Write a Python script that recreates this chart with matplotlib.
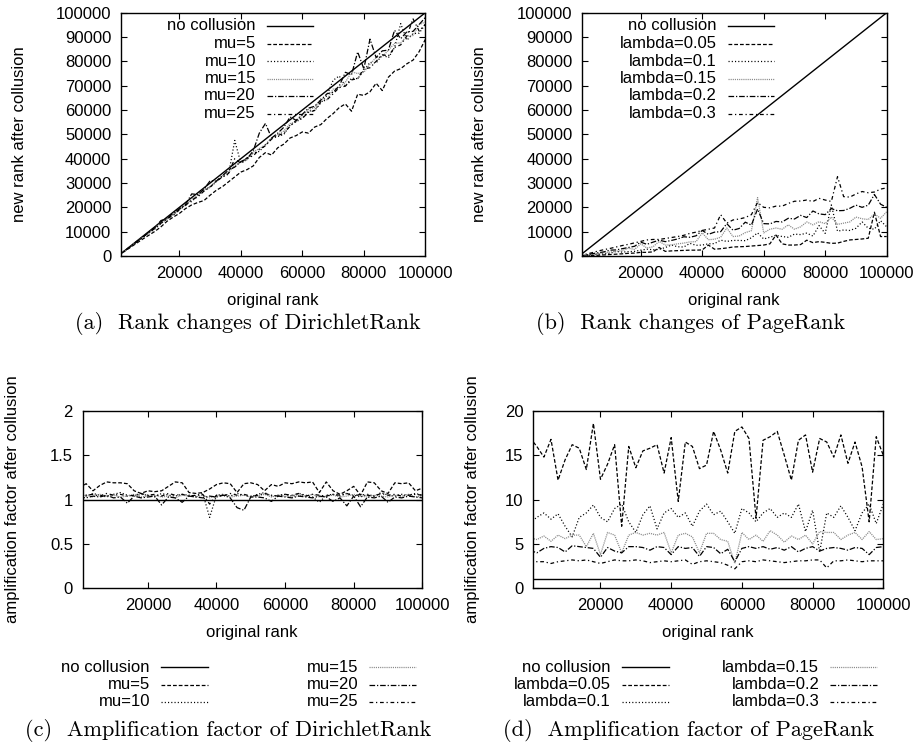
import numpy as np
import matplotlib
matplotlib.use("Agg")
import matplotlib.pyplot as plt
from matplotlib.lines import Line2D

plt.rcParams['font.family'] = ['Liberation Sans', 'DejaVu Sans']
plt.rcParams['axes.unicode_minus'] = False

W, H = 920, 745

# sampled original ranks (every 2000 pages)
ranks = np.arange(0, 100001, 2000)
full_range = [0, 100000]

mu_labels = ['no collusion', 'mu=5', 'mu=10', 'mu=15', 'mu=20', 'mu=25']
lambda_labels = ['no collusion', 'lambda=0.05', 'lambda=0.1', 'lambda=0.15',
                 'lambda=0.2', 'lambda=0.3']

# (a) new rank after collusion, DirichletRank
mu5_rank = [0, 1800, 3500, 5200, 6900, 8500, 10100, 12000, 14300, 16000,
            17500, 19500, 21000, 22000, 22800, 25000, 27000, 28500, 30500, 32500,
            34500, 35500, 37000, 40500, 42500, 41500, 44500, 46000, 48500, 49500,
            51000, 50500, 53000, 54000, 56500, 58500, 61000, 62500, 59500, 66500,
            66000, 67500, 71000, 68000, 73500, 76000, 77000, 79000, 80500, 84000,
            89000]
mu10_rank = [0, 1900, 3700, 5700, 7800, 9400, 11100, 13300, 15400, 17000,
             19000, 21400, 22400, 24800, 26900, 28300, 30500, 32700, 33600, 47500,
             38100, 39600, 42300, 43000, 45700, 48500, 49100, 50000, 53800, 55200,
             56600, 59600, 59800, 62900, 66000, 72200, 74000, 69800, 73100, 72900,
             76200, 79600, 79300, 82700, 81500, 85700, 95500, 88700, 91400, 91600,
             95200]
mu15_rank = [0, 1900, 3900, 5700, 7700, 9500, 11600, 13500, 15100, 17500,
             19200, 21000, 23300, 25000, 27400, 28600, 30800, 33000, 34300, 37300,
             38500, 39600, 42700, 44200, 45700, 48500, 50000, 51400, 54400, 55200,
             57700, 60200, 61000, 64700, 64200, 68600, 69200, 71400, 75700, 75000,
             75500, 78800, 81600, 81900, 84600, 87400, 87600, 90400, 90600, 95100,
             96200]
mu20_rank = [0, 1960, 3850, 5830, 7620, 9800, 11650, 14580, 15380, 17650,
             19420, 21150, 25530, 25240, 27450, 30930, 30770, 33010, 35290, 36540,
             38830, 40000, 43140, 50500, 54500, 48500, 50490, 52940, 57140, 55770,
             58250, 60780, 61540, 64080, 66670, 67310, 69900, 75510, 74510, 83870,
             76920, 89130, 81550, 84310, 84620, 92780, 89320, 92160, 92310, 95150,
             98040]
mu25_rank = [0, 1870, 3770, 5660, 7690, 9520, 11320, 13460, 15240, 16820,
             19050, 20750, 23080, 24300, 26670, 28300, 30770, 32380, 33960, 40000,
             38100, 40380, 41120, 43810, 45280, 48080, 49520, 50470, 53330, 55770,
             56600, 59050, 59810, 63460, 64150, 66670, 69230, 69810, 72380, 72900,
             76920, 77360, 80000, 82690, 82240, 85710, 86790, 90380, 97500, 92450,
             95240]

# (b) new rank after collusion, PageRank
lam005_rank = [0, 100, 200, 300, 450, 600, 750, 900, 1100, 1200,
               1500, 1500, 1700, 3500, 1900, 2100, 2200, 2300, 2400, 2400,
               2500, 4500, 2800, 3000, 3300, 3700, 3800, 3900, 4100, 4300,
               4500, 5000, 8600, 5000, 4500, 4500, 4700, 6500, 5500, 5900,
               5600, 5200, 5300, 6000, 6600, 6800, 7000, 7300, 18000, 8000,
               8000]
lam01_rank = [0, 200, 400, 700, 900, 1100, 1900, 1600, 1800, 1900,
              2400, 2800, 2600, 2700, 3500, 4500, 3800, 3700, 5200, 4400,
              4500, 5000, 5100, 6500, 6000, 6400, 6400, 6300, 7500, 9500,
              7000, 7700, 8500, 8000, 7700, 9000, 8800, 9400, 8200, 12500,
              9300, 21000, 10200, 10700, 10500, 11400, 14000, 11400, 11000, 14500,
              12000]
lam015_rank = [0, 300, 600, 1000, 1300, 1600, 1900, 2200, 3200, 2700,
               5000, 3300, 3800, 6000, 4500, 4600, 5000, 5300, 5800, 5900,
               9500, 6700, 6900, 7700, 11500, 8000, 8200, 9600, 10400, 24000,
               9500, 11000, 11500, 11000, 12800, 11000, 12000, 14000, 12800, 14100,
               13300, 16000, 13000, 13500, 14000, 16000, 15300, 15000, 17300, 15500,
               18200]
lam02_rank = [0, 400, 900, 1300, 1700, 2400, 2500, 3000, 3500, 4000,
              5700, 4800, 5700, 6500, 5900, 6400, 7000, 7900, 7700, 8300,
              10500, 8900, 9800, 10000, 13300, 10600, 11300, 13900, 12700, 19300,
              13300, 13200, 14200, 14000, 15500, 15200, 16700, 15800, 18500, 17300,
              17000, 19500, 18600, 18700, 19600, 20900, 20000, 20900, 25300, 21300,
              20000]
lam03_rank = [0, 700, 1300, 2000, 2600, 3100, 3700, 4300, 4800, 5400,
              6000, 6600, 6800, 6800, 7200, 7600, 8000, 8500, 9300, 9800,
              10500, 11000, 11500, 17000, 13500, 14800, 15200, 15800, 17000, 22000,
              20000, 19800, 20500, 20500, 21600, 22500, 22600, 23000, 22400, 23700,
              23000, 22400, 32600, 24400, 24200, 25500, 26500, 26000, 26300, 27500,
              28000]

# (c) amplification factor, DirichletRank
mu5_amp = [1.13, 1.18, 1.10, 1.16, 1.20, 1.19, 1.19, 1.18, 1.10, 1.07,
           1.10, 1.09, 1.10, 1.15, 1.20, 1.19, 1.08, 1.07, 1.08, 1.12,
           1.17, 1.19, 1.18, 1.08, 1.18, 1.19, 1.17, 1.10, 1.17, 1.15,
           1.19, 1.18, 1.20, 1.19, 1.20, 1.08, 1.20, 1.10, 1.06, 1.10,
           1.15, 1.05, 1.20, 1.19, 1.10, 1.07, 1.19, 1.18, 1.19, 1.10,
           1.13]
mu10_amp = [1.06, 1.04, 1.07, 1.05, 1.03, 1.06, 1.08, 1.05, 1.04, 1.06,
            1.05, 1.03, 1.07, 1.05, 1.04, 1.06, 1.05, 1.04, 1.07, 0.80,
            1.05, 1.06, 1.04, 1.07, 1.05, 1.03, 1.06, 1.08, 1.04, 1.05,
            1.06, 1.04, 1.07, 1.05, 1.03, 0.97, 1.05, 1.06, 1.04, 1.07,
            1.05, 1.03, 1.06, 1.04, 1.08, 1.05, 1.04, 1.06, 1.05, 1.07,
            1.05]
mu15_amp = [1.04, 1.05, 1.03, 1.06, 1.04, 1.05, 1.03, 1.04, 1.06, 1.03,
            1.04, 1.05, 1.03, 1.04, 1.02, 1.05, 1.04, 1.03, 1.05, 1.02,
            1.04, 1.06, 1.03, 1.04, 1.05, 1.03, 1.04, 1.06, 1.03, 1.05,
            1.04, 1.03, 1.05, 1.04, 1.06, 1.03, 1.04, 1.05, 1.03, 1.04,
            1.06, 1.04, 1.03, 1.05, 1.04, 1.03, 1.05, 1.04, 1.06, 1.03,
            1.04]
mu20_amp = [1.03, 1.02, 1.04, 1.03, 1.05, 1.02, 1.03, 0.96, 1.04, 1.02,
            1.03, 1.04, 0.94, 1.03, 1.02, 0.97, 1.04, 1.03, 1.02, 1.04,
            1.03, 1.05, 1.02, 0.91, 0.88, 1.03, 1.03, 1.02, 0.98, 1.04,
            1.03, 1.02, 1.04, 1.03, 1.02, 1.04, 1.03, 0.98, 1.02, 0.93,
            1.04, 0.92, 1.03, 1.02, 1.04, 0.97, 1.03, 1.02, 1.04, 1.03,
            1.02]
mu25_amp = [1.07, 1.05, 1.06, 1.04, 1.07, 1.05, 1.06, 1.04, 1.05, 1.07,
            1.05, 1.06, 1.04, 1.07, 1.05, 1.06, 1.04, 1.05, 1.06, 0.95,
            1.05, 1.04, 1.07, 1.05, 1.06, 1.04, 1.05, 1.07, 1.05, 1.04,
            1.06, 1.05, 1.07, 1.04, 1.06, 1.05, 1.04, 1.06, 1.05, 1.07,
            1.04, 1.06, 1.05, 1.04, 1.07, 1.05, 1.06, 1.04, 1.05, 1.06,
            1.05]

# (d) amplification factor, PageRank
lam005_amp = [17, 16, 14.8, 16.8, 12.2, 14.5, 16.2, 15.8, 13.4, 18.6,
              12.3, 14, 16.2, 7, 16, 13.6, 15.5, 15.8, 16.2, 13,
              17, 9.8, 16.5, 16, 13.5, 13.9, 17.7, 15.6, 13, 17.7,
              18.2, 16.9, 7.9, 16.7, 17.1, 17.7, 15, 12.2, 16.7, 17.3,
              13.1, 16.9, 16.5, 14.8, 17.3, 14.1, 16.5, 13.7, 7.5, 17.1,
              15]
lam01_amp = [7.4, 8, 8.5, 7.8, 8.4, 7, 5.8, 8, 8.5, 9.4,
             8, 7.5, 9, 9.5, 7.5, 6.3, 8.3, 9.3, 6.7, 8.5,
             9, 8, 8.5, 7, 8.7, 9.5, 8.3, 8.7, 7.5, 6.2,
             9, 8.5, 7.5, 8.5, 9, 8, 8.5, 8, 9.5, 6.4,
             8.8, 4.1, 8.5, 8, 9.3, 8, 6.5, 8.5, 9.5, 7.3,
             9.5]
lam015_amp = [5.7, 5.5, 5.9, 5.3, 6, 5.6, 6, 6, 4.7, 6.2,
              3.8, 6.3, 6, 4, 6, 6.3, 6, 6.2, 6, 6.3,
              4, 6, 6.2, 5.8, 4, 6.2, 6.2, 5.5, 5.3, 2.8,
              6.3, 5.5, 6, 5.3, 6.5, 6, 5.2, 5.9, 5.5, 6,
              5, 6.4, 6.3, 6.3, 5.5, 6, 6.3, 5.5, 6.4, 5.5,
              5.6]
lam02_amp = [4.3, 4.0, 4.5, 4.7, 4.6, 4.1, 4.8, 4.7, 4.6, 4.5,
             3.5, 4.6, 4.2, 4.0, 4.7, 4.7, 4.6, 4.3, 4.7, 4.6,
             3.8, 4.7, 4.5, 4.6, 3.6, 4.7, 4.6, 3.9, 4.4, 3.0,
             4.5, 4.7, 4.5, 4.7, 4.4, 4.6, 4.3, 4.7, 4.1, 4.5,
             4.7, 4.2, 4.5, 4.6, 4.5, 4.3, 4.6, 4.5, 3.8, 4.6,
             4.7]
lam03_amp = [3.1, 3.0, 3.0, 2.8, 3.0, 3.1, 3.2, 3.1, 3.2, 3.0,
             2.8, 3.0, 3.2, 3.1, 3.1, 3.2, 3.1, 2.9, 3.0, 3.1,
             3.0, 3.1, 3.2, 2.7, 3.0, 3.1, 3.0, 2.9, 2.6, 2.2,
             3.0, 3.1, 3.0, 3.2, 3.1, 3.0, 2.9, 3.0, 3.1, 3.1,
             3.2, 3.2, 2.3, 3.1, 3.1, 3.2, 3.1, 3.0, 3.1, 3.1,
             3.1]

rank_ticks = [20000, 40000, 60000, 80000, 100000]
newrank_ticks = [0, 10000, 20000, 30000, 40000, 50000, 60000, 70000, 80000, 90000, 100000]
amp_dr_ticks = [0, 0.5, 1, 1.5, 2]
amp_dr_labels = ['0', '0.5', '1', '1.5', '2']
amp_pr_ticks = [0, 5, 10, 15, 20]

# gnuplot-like line types
styles = [
    dict(color='black', lw=1.0, ls='-'),
    dict(color='black', lw=0.9, ls=(0, (3.0, 1.6))),
    dict(color='black', lw=0.9, ls=(0, (0.9, 1.7))),
    dict(color='#8a8a8a', lw=0.9, ls=(0, (0.9, 0.8))),
    dict(color='black', lw=0.9, ls=(0, (4.5, 1.5, 1.0, 1.5))),
    dict(color='black', lw=0.9, ls=(0, (3.0, 2.2, 1.0, 2.2))),
]


def fx(x):
    return x / W


def fy(y):
    return 1 - y / H


fig = plt.figure(figsize=(W / 100, H / 100), dpi=100)


def make_axes(left, top, right, bottom):
    ax = fig.add_axes([fx(left), fy(bottom), (right - left) / W, (bottom - top) / H])
    ax.tick_params(direction='in', top=True, right=True, length=4, width=0.8,
                   labelsize=12, pad=7)
    for s in ax.spines.values():
        s.set_linewidth(1.0)
    ax.set_xlim(1000, 100000)
    ax.set_xticks(rank_ticks)
    ax.set_xticklabels([str(t) for t in rank_ticks])
    return ax


def draw_key(labels, style_list, text_right, x0, x1, rows):
    for label, st, y in zip(labels, style_list, rows):
        fig.text(fx(text_right), fy(y), label, ha='right', va='center', fontsize=12)
        fig.add_artist(Line2D([fx(x0), fx(x1)], [fy(y), fy(y)],
                              transform=fig.transFigure, **st))


def caption(x, y, s):
    fig.text(fx(x), fy(y), s, ha='center', va='center', fontsize=16, family='cmr10')


rows_top = [26, 43.5, 61, 78.5, 96, 113.5]
rows_bottom = [667, 684.5, 702]

# (a)
ax = make_axes(121, 12.7, 425.3, 256)
ax.plot(full_range, full_range, **styles[0])
for series, st in zip([mu5_rank, mu10_rank, mu15_rank, mu20_rank, mu25_rank], styles[1:]):
    ax.plot(ranks, series, **st)
ax.set_ylim(0, 100000)
ax.set_yticks(newrank_ticks)
ax.set_yticklabels([str(t) for t in newrank_ticks])
fig.text(fx(273), fy(300), 'original rank', ha='center', va='center', fontsize=12)
fig.text(fx(20), fy(134), 'new rank after collusion', ha='center', va='center',
         rotation=90, fontsize=12)
draw_key(mu_labels, styles, 256, 266.7, 313.3, rows_top)
caption(248, 324, '(a)  Rank changes of DirichletRank')

# (b)
ax = make_axes(582.3, 12.7, 886.7, 256)
ax.plot(full_range, full_range, **styles[0])
for series, st in zip([lam005_rank, lam01_rank, lam015_rank, lam02_rank, lam03_rank], styles[1:]):
    ax.plot(ranks, series, **st)
ax.set_ylim(0, 100000)
ax.set_yticks(newrank_ticks)
ax.set_yticklabels([str(t) for t in newrank_ticks])
fig.text(fx(734), fy(300), 'original rank', ha='center', va='center', fontsize=12)
fig.text(fx(480), fy(134), 'new rank after collusion', ha='center', va='center',
         rotation=90, fontsize=12)
draw_key(lambda_labels, styles, 716.7, 728.3, 774, rows_top)
caption(691, 324, '(b)  Rank changes of PageRank')

# (c)
ax = make_axes(82.7, 411, 422.3, 588.3)
ax.plot(full_range, [1, 1], **styles[0])
for series, st in zip([mu5_amp, mu10_amp, mu15_amp, mu20_amp, mu25_amp], styles[1:]):
    ax.plot(ranks, series, **st)
ax.set_ylim(0, 2)
ax.set_yticks(amp_dr_ticks)
ax.set_yticklabels(amp_dr_labels)
fig.text(fx(252), fy(632), 'original rank', ha='center', va='center', fontsize=12)
fig.text(fx(13), fy(499), 'amplification factor after collusion', ha='center',
         va='center', rotation=90, fontsize=12)
draw_key(mu_labels[:3], styles[:3], 150, 161, 207.7, rows_bottom)
draw_key(mu_labels[3:], styles[3:], 358.3, 369.3, 416, rows_bottom)
caption(228, 730, '(c)  Amplification factor of DirichletRank')

# (d)
ax = make_axes(533.3, 411, 883.3, 588.3)
ax.plot(full_range, [1, 1], **styles[0])
for series, st in zip([lam005_amp, lam01_amp, lam015_amp, lam02_amp, lam03_amp], styles[1:]):
    ax.plot(ranks, series, **st)
ax.set_ylim(0, 20)
ax.set_yticks(amp_pr_ticks)
ax.set_yticklabels([str(t) for t in amp_pr_ticks])
fig.text(fx(708), fy(632), 'original rank', ha='center', va='center', fontsize=12)
fig.text(fx(473), fy(499), 'amplification factor after collusion', ha='center',
         va='center', rotation=90, fontsize=12)
draw_key(lambda_labels[:3], styles[:3], 611, 622.3, 669, rows_bottom)
draw_key(lambda_labels[3:], styles[3:], 819.3, 830, 876.7, rows_bottom)
caption(689, 730, '(d)  Amplification factor of PageRank')

fig.savefig('out.png', dpi=100)
